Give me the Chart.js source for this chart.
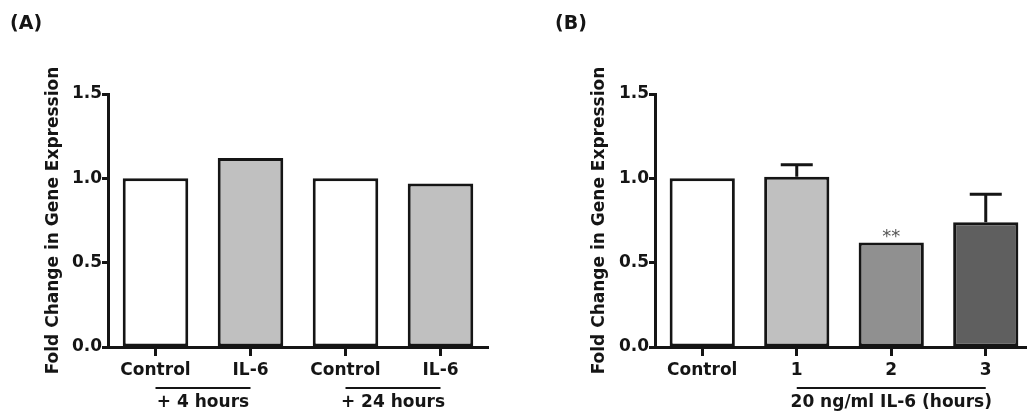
<!DOCTYPE html>
<html>
<head>
<meta charset="utf-8">
<script src="https://cdn.jsdelivr.net/npm/chart.js@4.4.1/dist/chart.umd.min.js"></script>
<style>
  html, body { margin: 0; padding: 0; background: #fff; overflow: hidden; }
  body { width: 1027px; height: 414px; position: relative; }
  .panel { position: absolute; top: 0; height: 414px; }
  #panel-a { left: 0; width: 500px; }
  #panel-b { left: 520px; width: 520px; }
</style>
</head>
<body>
<div class="panel" id="panel-a"><canvas id="chart-a"></canvas></div>
<div class="panel" id="panel-b"><canvas id="chart-b"></canvas></div>
<script>
// Datos del panel A
const panelALabels = ['Control', 'IL-6', 'Control', 'IL-6'];
const panelAValues = [1.0, 1.12, 1.0, 0.97];
const panelAGroups = ['+ 4 hours', '+ 24 hours'];
const panelAGroupSpans = [[0, 1], [2, 3]];

// Datos del panel B
const panelBLabels = ['Control', '1', '2', '3'];
const panelBValues = [1.0, 1.01, 0.62, 0.74];
const panelBErrors = [0, 0.07, 0, 0.165];
const panelBMarks = ['', '', '**', ''];
const panelBGroups = ['20 ng/ml IL-6 (hours)'];
const panelBGroupSpans = [[1, 3]];

const yTitle = 'Fold Change in Gene Expression';
const yMin = 0, yMax = 1.5, yStep = 0.5;

// Estilos
const panelAColors = ['#ffffff', '#c0c0c0', '#ffffff', '#c0c0c0'];
const panelBColors = ['#ffffff', '#c0c0c0', '#909090', '#5f5f5f'];
const ink = '#151515';
const fontFamily = '"DejaVu Sans", Verdana, sans-serif';

// Plugin: lineas de grupo, barras de error y marcas de significancia
const extrasPlugin = {
    id: 'extras',
    afterDatasetsDraw(chart, args, opts) {
        const ctx = chart.ctx;
        const xs = chart.scales.x;
        const ys = chart.scales.y;
        const meta = chart.getDatasetMeta(0);
        ctx.save();
        ctx.strokeStyle = ink;
        ctx.fillStyle = ink;

        // barras de error (solo hacia arriba)
        (opts.errors || []).forEach((err, i) => {
            if (!err) return;
            const v = chart.data.datasets[0].data[i];
            const x = meta.data[i].x;
            const yBar = ys.getPixelForValue(v);
            const yTop = ys.getPixelForValue(v + err);
            ctx.lineWidth = 3;
            ctx.beginPath();
            ctx.moveTo(x, yBar);
            ctx.lineTo(x, yTop);
            ctx.moveTo(x - 16, yTop);
            ctx.lineTo(x + 16, yTop);
            ctx.stroke();
        });

        // asteriscos
        (opts.marks || []).forEach((m, i) => {
            if (!m) return;
            const v = chart.data.datasets[0].data[i] + (opts.errors ? opts.errors[i] : 0);
            ctx.font = '18px ' + fontFamily;
            ctx.fillStyle = '#555';
            ctx.textAlign = 'center';
            ctx.textBaseline = 'alphabetic';
            ctx.fillText(m, meta.data[i].x, ys.getPixelForValue(v));
        });

        // lineas y etiquetas de grupo bajo el eje x
        ctx.fillStyle = ink;
        (opts.groups || []).forEach((label, g) => {
            const [a, b] = opts.spans[g];
            const x1 = xs.getPixelForValue(a);
            const x2 = xs.getPixelForValue(b);
            const yLine = xs.top + 41;
            ctx.lineWidth = 2;
            ctx.beginPath();
            ctx.moveTo(x1, yLine);
            ctx.lineTo(x2, yLine);
            ctx.stroke();
            ctx.font = 'bold 17px ' + fontFamily;
            ctx.textAlign = 'center';
            ctx.textBaseline = 'middle';
            ctx.fillText(label, (x1 + x2) / 2, yLine + 15);
        });
        ctx.restore();
    }
};

function makeChart(canvasId, title, labels, values, colors, extras, padLeft, padRight, yWidth, titlePad) {
    return new Chart(document.getElementById(canvasId), {
        type: 'bar',
        data: {
            labels: labels,
            datasets: [{
                data: values,
                backgroundColor: colors,
                borderColor: ink,
                borderWidth: 3,
                borderSkipped: false,
                barPercentage: 0.69,
                categoryPercentage: 1.0
            }]
        },
        plugins: [extrasPlugin],
        options: {
            responsive: true,
            maintainAspectRatio: false,
            animation: false,
            events: [],
            layout: { padding: { left: padLeft, right: padRight, top: 0, bottom: 0 } },
            plugins: {
                legend: { display: false },
                tooltip: { enabled: false },
                title: {
                    display: true,
                    text: title,
                    align: 'start',
                    color: ink,
                    font: { family: fontFamily, size: 19, weight: 'bold' },
                    padding: { top: 13, bottom: 58.2 }
                },
                extras: extras
            },
            scales: {
                x: {
                    offset: true,
                    grid: {
                        offset: false,
                        drawOnChartArea: false,
                        drawTicks: true,
                        tickLength: 9,
                        tickColor: ink,
                        tickWidth: 3
                    },
                    border: { display: true, color: ink, width: 3 },
                    ticks: {
                        color: ink,
                        padding: 4,
                        autoSkip: false,
                        maxRotation: 0,
                        font: { family: fontFamily, size: 17, weight: 'bold' }
                    },
                    afterFit: s => { s.height = 67; }
                },
                y: {
                    min: yMin,
                    max: yMax,
                    grid: {
                        drawOnChartArea: false,
                        drawTicks: true,
                        tickLength: 6,
                        tickColor: ink,
                        tickWidth: 3
                    },
                    border: { display: true, color: ink, width: 3 },
                    ticks: {
                        stepSize: yStep,
                        color: ink,
                        padding: 0,
                        font: { family: fontFamily, size: 17, weight: 'bold' },
                        callback: v => v.toFixed(1)
                    },
                    title: {
                        display: true,
                        text: yTitle,
                        color: ink,
                        font: { family: fontFamily, size: 17, weight: 'bold' },
                        padding: { top: titlePad, bottom: 0 }
                    },
                    afterFit: s => { s.width = yWidth; }
                }
            }
        }
    });
}

makeChart('chart-a', '(A)', panelALabels, panelAValues, panelAColors,
    { groups: panelAGroups, spans: panelAGroupSpans }, 10, 12, 98, 33.8);

makeChart('chart-b', '(B)', panelBLabels, panelBValues, panelBColors,
    { groups: panelBGroups, spans: panelBGroupSpans, errors: panelBErrors, marks: panelBMarks }, 35, 7, 100, 34.8);
</script>
</body>
</html>
